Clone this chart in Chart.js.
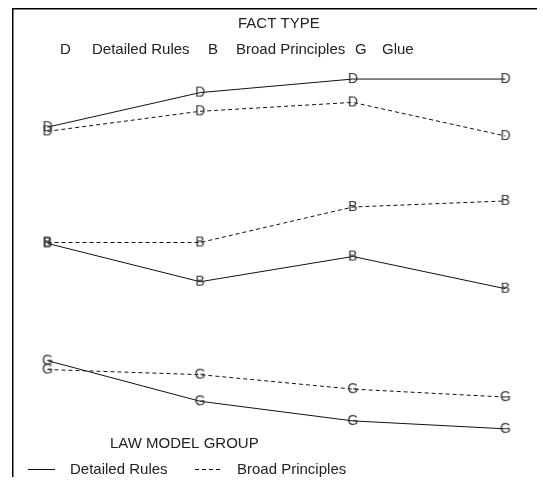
<!DOCTYPE html>
<html>
<head>
<meta charset="utf-8">
<script src="https://cdn.jsdelivr.net/npm/chart.js@4.4.1/dist/chart.umd.min.js"></script>
<style>
  html, body { margin: 0; padding: 0; background: #fff; overflow: hidden; }
  #box { position: fixed; left: 0; top: 0; width: 100vw; height: 100vh; }
</style>
</head>
<body>
<div id="box"><canvas id="grafico"></canvas></div>
<script>
// Datos (escala 0-100, sin marcas en los ejes)
const categorias = ["1", "2", "3", "4"];
const detalladasReglas = [74.7, 82.1, 85.0, 85.0];   // D, modelo Detailed Rules
const detalladasPrincipios = [73.8, 78.1, 80.0, 72.8]; // D, modelo Broad Principles
const amplioReglas = [49.8, 41.6, 47.0, 40.1];        // B, modelo Detailed Rules
const amplioPrincipios = [50.0, 50.0, 57.6, 58.9];    // B, modelo Broad Principles
const pegaReglas = [24.7, 16.0, 11.8, 10.1];          // G, modelo Detailed Rules
const pegaPrincipios = [22.8, 21.7, 18.6, 16.9];      // G, modelo Broad Principles

const fuente = '"Liberation Sans", Arial, sans-serif';
const colorTexto = "#222";

// Marcador con la letra del tipo de hecho
function crearLetra(letra) {
    const c = document.createElement("canvas");
    c.width = 16;
    c.height = 16;
    const g = c.getContext("2d");
    g.fillStyle = "#333";
    g.font = "14px " + fuente;
    g.textAlign = "center";
    g.textBaseline = "middle";
    g.fillText(letra, 8, 8.5);
    return c;
}

function serie(valores, letra, discontinua) {
    return {
        data: valores.map((v, i) => ({ x: i, y: v })),
        borderColor: "#111",
        borderWidth: 1,
        borderDash: discontinua ? [4, 3] : [],
        pointStyle: crearLetra(letra),
        pointRadius: 6,
        pointHoverRadius: 6,
        fill: false,
        tension: 0
    };
}

// Titulos y leyendas dibujados como texto
const textos = {
    id: "textos",
    afterDraw(chart) {
        const ctx = chart.ctx;
        ctx.save();
        ctx.fillStyle = colorTexto;
        ctx.strokeStyle = "#111";
        ctx.lineWidth = 1;
        ctx.font = "15px " + fuente;
        ctx.textBaseline = "middle";
        ctx.textAlign = "left";
        ctx.fillText("FACT TYPE", 238, 24);
        ctx.fillText("D", 60, 50);
        ctx.fillText("Detailed Rules", 92, 50);
        ctx.fillText("B", 208, 50);
        ctx.fillText("Broad Principles", 236, 50);
        ctx.fillText("G", 355, 50);
        ctx.fillText("Glue", 382, 50);

        ctx.fillText("LAW MODEL GROUP", 110, 444);
        ctx.fillText("Detailed Rules", 70, 470);
        ctx.fillText("Broad Principles", 237, 470);

        ctx.beginPath();
        ctx.moveTo(28, 469.5);
        ctx.lineTo(55, 469.5);
        ctx.stroke();
        ctx.setLineDash([4, 3]);
        ctx.beginPath();
        ctx.moveTo(195, 469.5);
        ctx.lineTo(223, 469.5);
        ctx.stroke();
        ctx.restore();
    }
};

const ctx = document.getElementById("grafico").getContext("2d");
new Chart(ctx, {
    type: "line",
    data: {
        labels: categorias,
        datasets: [
            serie(detalladasReglas, "D", false),
            serie(detalladasPrincipios, "D", true),
            serie(amplioReglas, "B", false),
            serie(amplioPrincipios, "B", true),
            serie(pegaReglas, "G", false),
            serie(pegaPrincipios, "G", true)
        ]
    },
    options: {
        responsive: true,
        maintainAspectRatio: false,
        animation: false,
        layout: { padding: { top: 9, left: 13, right: 0, bottom: 0 } },
        plugins: {
            legend: { display: false },
            tooltip: { enabled: false }
        },
        scales: {
            x: {
                type: "linear",
                position: "top",
                min: -0.226,
                max: 3.2,
                grid: { display: false, drawTicks: false },
                ticks: { display: false },
                border: { display: true, color: "#000", width: 1.5 }
            },
            y: {
                min: 0,
                max: 100,
                grid: { display: false, drawTicks: false },
                ticks: { display: false },
                border: { display: true, color: "#000", width: 1.5 }
            }
        }
    },
    plugins: [textos]
});
</script>
</body>
</html>
